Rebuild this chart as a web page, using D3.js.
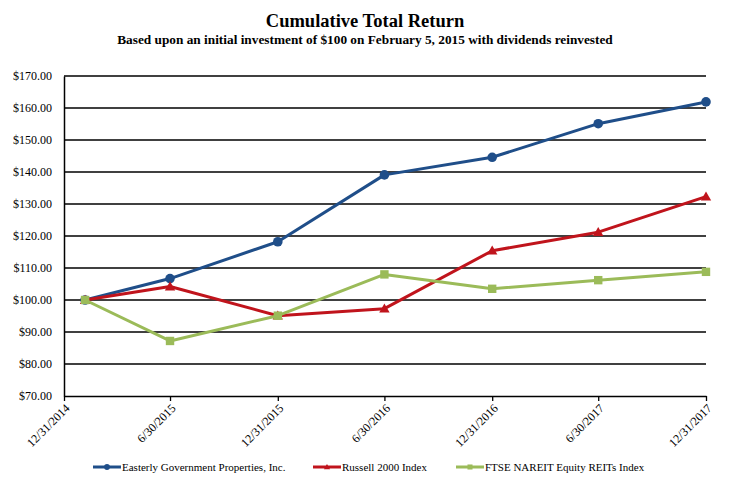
<!DOCTYPE html>
<html>
<head>
<meta charset="utf-8">
<script src="https://cdn.jsdelivr.net/npm/d3@7"></script>
<style>
  html, body { margin: 0; padding: 0; background: #fff; }
  svg { display: block; }
  svg text { font-family: "Liberation Serif", "Times New Roman", serif; fill: #000; }
</style>
</head>
<body>
<svg id="chart" width="730" height="486"></svg>
<script>
// ---- data ----
const tickDates = ["2014-12-31", "2015-06-30", "2015-12-31", "2016-06-30", "2016-12-31", "2017-06-30", "2017-12-31"];
const pointDates = ["2015-02-05", "2015-06-30", "2015-12-31", "2016-06-30", "2016-12-31", "2017-06-30", "2017-12-31"];
const seriesNames = ["Easterly Government Properties, Inc.", "Russell 2000 Index", "FTSE NAREIT Equity REITs Index"];
const easterly = [100.00, 106.7, 118.2, 139.1, 144.6, 155.1, 161.9];
const russell = [100.00, 104.2, 95.1, 97.3, 115.4, 121.2, 132.3];
const nareit = [100.00, 87.2, 95.1, 108.0, 103.5, 106.2, 108.8];
const yTicks = [70, 80, 90, 100, 110, 120, 130, 140, 150, 160, 170];
const titleText = "Cumulative Total Return";
const subtitleText = "Based upon an initial investment of $100 on February 5, 2015 with dividends reinvested";

const colors = ["#1F4E89", "#C0141C", "#9BBB59"];
const markers = ["circle", "triangle", "square"];

const parse = d3.timeParse("%Y-%m-%d");
const fmt = d3.timeFormat("%-m/%-d/%Y");
const svg = d3.select("#chart");

const plotLeft = 64, plotRight = 706, plotTop = 76, plotBottom = 396;
const x = d3.scaleTime().domain([parse(tickDates[0]), parse(tickDates[tickDates.length - 1])]).range([plotLeft, plotRight]);
const y = d3.scaleLinear().domain([70, 170]).range([plotBottom, plotTop]);

// title
svg.append("text").attr("x", 365).attr("y", 27).attr("text-anchor", "middle")
  .attr("font-weight", "bold").attr("font-size", 18.5).text(titleText);
svg.append("text").attr("x", 365).attr("y", 44).attr("text-anchor", "middle")
  .attr("font-weight", "bold").attr("font-size", 13.3).text(subtitleText);

// gridlines
svg.append("g").selectAll("line").data(yTicks.filter(v => v > 70)).join("line")
  .attr("x1", plotLeft).attr("x2", plotRight)
  .attr("y1", d => y(d)).attr("y2", d => y(d))
  .attr("stroke", "#000").attr("stroke-width", 1.3);

// y axis
const yAxis = svg.append("g").attr("transform", `translate(${plotLeft},0)`)
  .call(d3.axisLeft(y).tickValues(yTicks).tickSize(0).tickPadding(12).tickFormat(d => "$" + d3.format(".2f")(d)));
yAxis.attr("font-family", null).attr("font-size", null);
yAxis.select(".domain").attr("stroke", "#000").attr("stroke-width", 1.5);
yAxis.selectAll("text").style("font-size", "12px");

// x axis
const xAxis = svg.append("g").attr("transform", `translate(0,${plotBottom})`)
  .call(d3.axisBottom(x).tickValues(tickDates.map(parse)).tickSize(5).tickSizeOuter(0).tickFormat(fmt));
xAxis.attr("font-family", null).attr("font-size", null);
xAxis.select(".domain").attr("stroke", "#000").attr("stroke-width", 1.5);
xAxis.selectAll(".tick line").attr("stroke", "#000").attr("stroke-width", 1.3);
xAxis.selectAll("text").style("font-size", "12px")
  .attr("text-anchor", "end").attr("dy", 0).attr("dx", 0).attr("y", 0)
  .attr("transform", "translate(6,13) rotate(-45)");

// lines
const allSeries = [easterly, russell, nareit];
const line = d3.line().x(d => x(d.date)).y(d => y(d.v));

function drawMarker(g, type, cx, cy, color, scale) {
  const s = scale || 1;
  if (type === "circle") {
    g.append("circle").attr("cx", cx).attr("cy", cy).attr("r", 4.8 * s).attr("fill", color);
  } else if (type === "square") {
    g.append("rect").attr("x", cx - 4.2 * s).attr("y", cy - 4.2 * s).attr("width", 8.4 * s).attr("height", 8.4 * s).attr("fill", color);
  } else {
    const h = 5.2 * s;
    g.append("path").attr("d", `M${cx},${cy - h} L${cx + h},${cy + h * 0.75} L${cx - h},${cy + h * 0.75} Z`).attr("fill", color);
  }
}

allSeries.forEach((vals, i) => {
  const data = vals.map((v, j) => ({ date: parse(pointDates[j]), v }));
  const g = svg.append("g");
  g.append("path").datum(data).attr("d", line).attr("fill", "none")
    .attr("stroke", colors[i]).attr("stroke-width", 3).attr("stroke-linejoin", "round");
  data.forEach(d => drawMarker(g, markers[i], x(d.date), y(d.v), colors[i]));
});

// legend
const legendX = [93, 313, 456];
seriesNames.forEach((name, i) => {
  const g = svg.append("g").attr("transform", `translate(${legendX[i]},467)`);
  g.append("line").attr("x1", 0).attr("x2", 28).attr("y1", 0).attr("y2", 0)
    .attr("stroke", colors[i]).attr("stroke-width", 3);
  drawMarker(g, markers[i], 14, 0, colors[i], 0.6);
  g.append("text").attr("x", 29).attr("y", 4).style("font-size", "11px").text(name);
});
</script>
</body>
</html>
